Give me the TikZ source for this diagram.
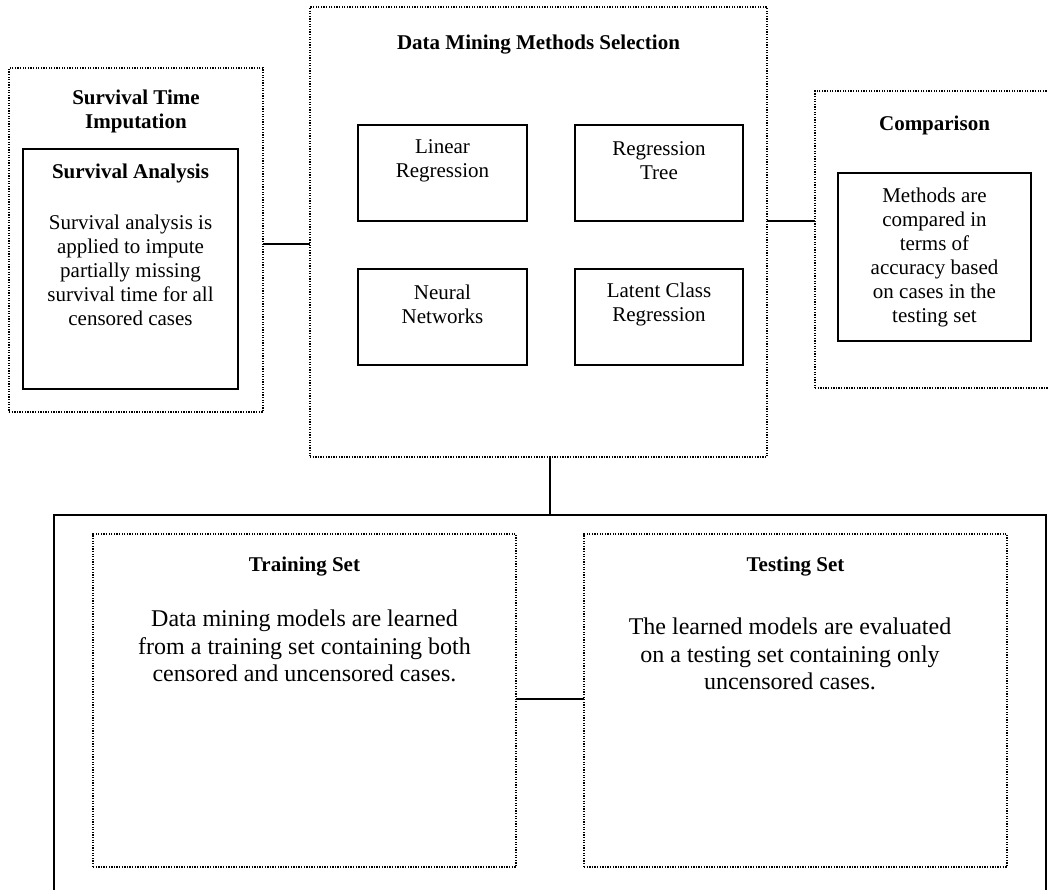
\documentclass[tikz,border=0pt]{standalone}
\usepackage{fontspec}
\setmainfont{Liberation Serif}
\begin{document}
\begin{tikzpicture}[x=1pt,y=-1pt,
  dotbox/.style={draw, line width=1.3pt, dash pattern=on 1.3pt off 1.3pt, inner sep=0pt, outer sep=0pt},
  solidbox/.style={draw, line width=1.6pt, inner sep=0pt, outer sep=0pt},
  thickbox/.style={draw, line width=2.2pt, inner sep=0pt, outer sep=0pt},
  link/.style={draw, line width=1.5pt},
  head/.style={font=\fontsize{21}{23.5}\selectfont\bfseries, align=center, inner sep=0pt},
  txt/.style={font=\fontsize{21}{24}\selectfont, align=center, inner sep=0pt},
  bigtxt/.style={font=\fontsize{24}{27.7}\selectfont, align=center, inner sep=0pt}]
\useasboundingbox (0,0) rectangle (1048,890);
\clip (0,0) rectangle (1048,890);

% survival time imputation
\node[dotbox, minimum width=254pt, minimum height=344pt] (surv) at (136,240) {};
\node[head] (survT) at (136,111.5) {Survival Time\\Imputation};
\node[thickbox, minimum width=215pt, minimum height=240pt] (sa) at (130.5,269) {};
\node[head] (saT) at (130.5,173) {Survival Analysis};
\node[txt] (saB) at (130.5,270) {Survival analysis is\\applied to impute\\partially missing\\survival time for all\\censored cases};

% data mining methods selection
\node[dotbox, minimum width=457pt, minimum height=450pt] (dm) at (538.5,232) {};
\node[head] (dmT) at (538.5,45) {Data Mining Methods Selection};
\node[solidbox, minimum width=169pt, minimum height=96pt] (lr) at (442.5,173) {};
\node[txt] at (442.5,160.5) {Linear\\Regression};
\node[solidbox, minimum width=168pt, minimum height=96pt] (rt) at (659,173) {};
\node[txt] at (659,160.5) {Regression\\Tree};
\node[solidbox, minimum width=169pt, minimum height=96pt] (nn) at (442.5,317) {};
\node[txt] at (442.5,304.5) {Neural\\Networks};
\node[solidbox, minimum width=168pt, minimum height=96pt] (lc) at (659,317) {};
\node[txt] at (659,304.5) {Latent Class\\Regression};

% comparison
\node[dotbox, minimum width=239pt, minimum height=297pt] (cmp) at (934.5,239.5) {};
\node[head] (cmpT) at (934.5,125) {Comparison};
\node[solidbox, minimum width=193pt, minimum height=168pt] (cb) at (934.5,257) {};
\node[txt] (cbB) at (934.5,257.5) {Methods are\\compared in\\terms of\\accuracy based\\on cases in the\\testing set};

% training / testing
\node[solidbox, minimum width=992pt, minimum height=400pt] (split) at (550,715) {};
\node[dotbox, minimum width=423pt, minimum height=333pt] (train) at (304.5,700.5) {};
\node[head] (trainT) at (304.5,567) {Training Set};
\node[bigtxt] (trainB) at (304.5,646) {Data mining models are learned\\from a training set containing both\\censored and uncensored cases.};
\node[dotbox, minimum width=423pt, minimum height=333pt] (test) at (795.5,700.5) {};
\node[head] (testT) at (795.5,567) {Testing Set};
\node[bigtxt] (testB) at (790,654) {The learned models are evaluated\\on a testing set containing only\\uncensored cases.};

% connectors
\coordinate (yl) at (0,244);
\coordinate (yr) at (0,221);
\coordinate (yb) at (0,699);
\path[link] (surv.east |- yl) -- (dm.west |- yl);
\path[link] (dm.east |- yr) -- (cmp.west |- yr);
\path[link] (dm.south -| split.north) -- (split.north);
\path[link] (train.east |- yb) -- (test.west |- yb);
\end{tikzpicture}
\end{document}
